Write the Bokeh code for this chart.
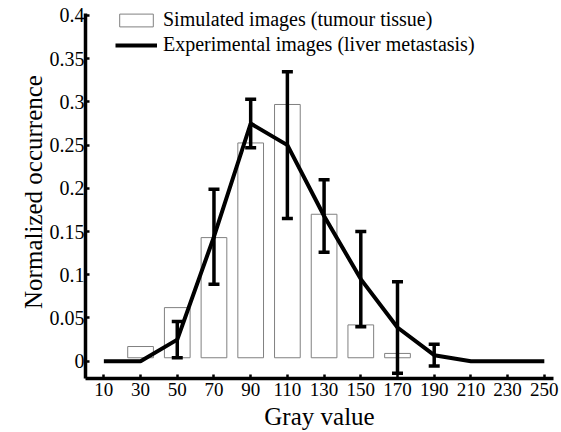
from bokeh.plotting import figure
from bokeh.models import FixedTicker, Legend, LegendItem, Whisker, ColumnDataSource, TeeHead, Range1d
from bokeh.embed import file_html
from bokeh.resources import INLINE

gray_values = [10, 30, 50, 70, 90, 110, 130, 150, 170, 190, 210, 230, 250]
simulated = [0, 0.017, 0.062, 0.143, 0.2525, 0.297, 0.17, 0.042, 0.009, 0, 0, 0, 0]
experimental = [0, 0, 0.025, 0.144, 0.275, 0.25, 0.168, 0.095, 0.039, 0.007, 0, 0, 0]
experimental_err = [0, 0, 0.021, 0.055, 0.028, 0.085, 0.042, 0.055, 0.053, 0.0125, 0, 0, 0]
y_ticks = [0, 0.05, 0.1, 0.15, 0.2, 0.25, 0.3, 0.35, 0.4]
y_tick_labels = ["0", "0.05", "0.1", "0.15", "0.2", "0.25", "0.3", "0.35", "0.4"]

FONT = "Liberation Serif"

p = figure(width=561, height=432, output_backend="svg", toolbar_location=None,
           x_range=Range1d(0, 255), y_range=Range1d(-0.02, 0.4115),
           min_border_left=85, min_border_right=8, min_border_top=5, min_border_bottom=53)
p.grid.visible = False
p.outline_line_color = None
p.background_fill_color = "white"

bx = [g for g, s in zip(gray_values, simulated) if s > 0]
bt = [s for s in simulated if s > 0]
bars = p.vbar(x=bx, top=bt, bottom=0.004, width=14, fill_color="white",
              line_color="#808080", line_width=1)

line = p.line(gray_values, experimental, line_color="black", line_width=4)

ex = [g for g, e in zip(gray_values, experimental_err) if e > 0]
ey = [v for v, e in zip(experimental, experimental_err) if e > 0]
ee = [e for e in experimental_err if e > 0]
src = ColumnDataSource(dict(x=ex, lo=[a - b for a, b in zip(ey, ee)], hi=[a + b for a, b in zip(ey, ee)]))
w = Whisker(base="x", lower="lo", upper="hi", source=src, line_width=3.5, line_color="black",
            level="overlay",
            lower_head=TeeHead(size=11, line_width=3.5, line_color="black"),
            upper_head=TeeHead(size=11, line_width=3.5, line_color="black"))
p.add_layout(w)

for ax in (p.xaxis[0], p.yaxis[0]):
    ax.axis_line_width = 3.5
    ax.axis_line_color = "black"
    ax.major_tick_in = 4
    ax.major_tick_out = 0
    ax.major_tick_line_width = 2.5
    ax.minor_tick_line_color = None
    ax.major_label_text_font = FONT
    ax.major_label_text_color = "black"
    ax.axis_label_text_font = FONT
    ax.axis_label_text_font_size = "25px"
    ax.axis_label_text_font_style = "normal"
    ax.axis_label_text_color = "black"

p.xaxis.ticker = FixedTicker(ticks=gray_values)
p.xaxis.axis_label = "Gray value"
p.xaxis.major_label_text_font_size = "19px"
p.xaxis.major_label_standoff = 4
p.xaxis.axis_label_standoff = 4
p.yaxis.ticker = FixedTicker(ticks=y_ticks)
p.yaxis.bounds = (-0.02, 0.4025)
p.yaxis.major_label_overrides = {t: l for t, l in zip(y_ticks, y_tick_labels)}
p.yaxis.axis_label = "Normalized occurrence"
p.yaxis.major_label_text_font_size = "20px"
p.yaxis.major_label_standoff = 1
p.yaxis.axis_label_standoff = 0

legend = Legend(items=[LegendItem(label="Simulated images (tumour tissue)", renderers=[bars]),
                       LegendItem(label="Experimental images (liver metastasis)", renderers=[line])],
                location=(30, 322), border_line_color=None, background_fill_alpha=0,
                label_text_font=FONT, label_text_font_size="20px", label_text_color="black",
                glyph_width=42, glyph_height=16, label_standoff=6, spacing=2, padding=0, margin=0,
                label_height=20)
p.add_layout(legend)

open("out.html", "w").write(file_html(p, INLINE))
